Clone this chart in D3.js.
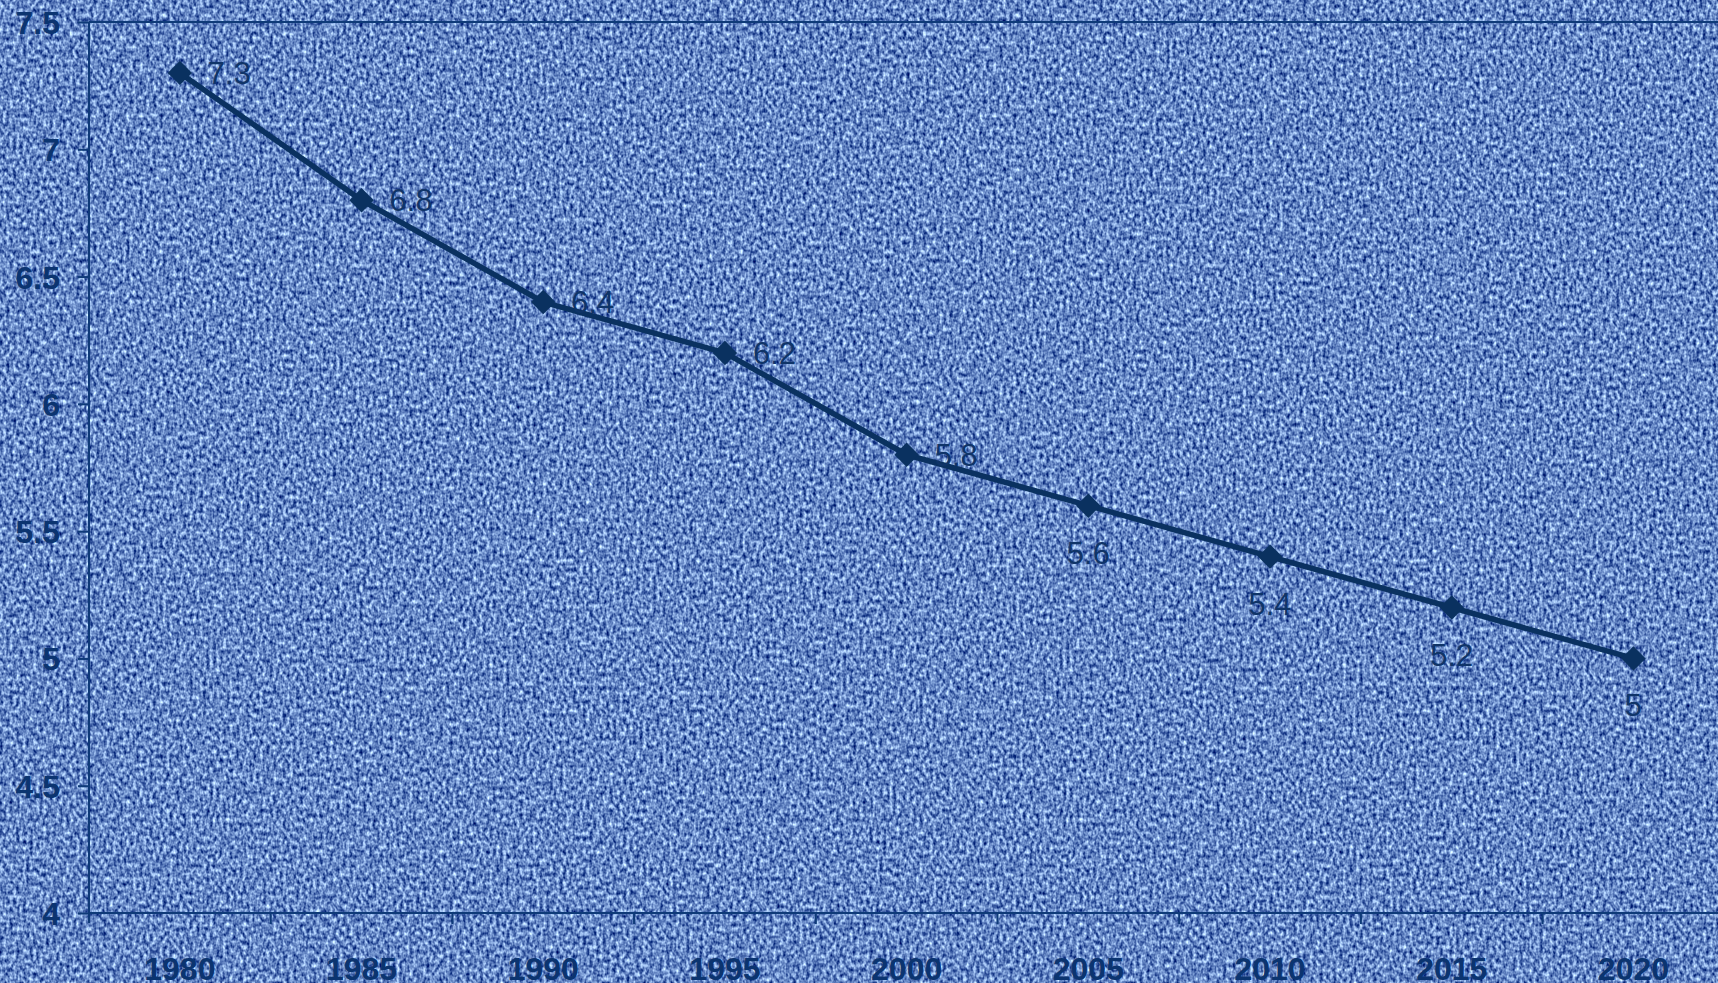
<!DOCTYPE html>
<html>
<head>
<meta charset="UTF-8">
<style>
  body { margin: 0; overflow: hidden; background: #6d8dc6; }
  svg { display: block; }
  .axis text { font-family: "Liberation Sans", Arial, sans-serif; font-weight: bold; font-size: 32px; fill: #0b3470; }
  .axis path, .axis line { stroke: #0e3a78; stroke-width: 2px; }
  .dlabel { font-family: "Liberation Sans", Arial, sans-serif; font-size: 31px; fill: #0f3468; }
</style>
</head>
<body>
<script src="https://cdn.jsdelivr.net/npm/d3@7"></script>
<script>
var years = ["1980", "1985", "1990", "1995", "2000", "2005", "2010", "2015", "2020"];
var values = [7.3, 6.8, 6.4, 6.2, 5.8, 5.6, 5.4, 5.2, 5];
var labelPos = ["right", "right", "right", "right", "right", "below", "below", "below", "below"];
var yTicks = [4, 4.5, 5, 5.5, 6, 6.5, 7, 7.5];
var yTickLabels = ["4", "4.5", "5", "5.5", "6", "6.5", "7", "7.5"];

var width = 1718, height = 983;
var plotLeft = 89, plotTop = 22, plotBottom = 913, bandW = 181.7;

var svg = d3.select("body").append("svg").attr("width", width).attr("height", height);

// canvas-like background texture
var defs = svg.append("defs");
var f = defs.append("filter").attr("id", "cloth").attr("x", 0).attr("y", 0)
  .attr("width", "100%").attr("height", "100%").attr("color-interpolation-filters", "sRGB");
f.append("feTurbulence").attr("type", "fractalNoise").attr("baseFrequency", "0.3 0.22")
  .attr("numOctaves", 2).attr("seed", 3).attr("result", "n");
f.append("feColorMatrix").attr("in", "n").attr("type", "matrix")
  .attr("values", "1.3 0 0 0 -0.25  1.3 0 0 0 -0.12  1.0 0 0 0 0.27  0 0 0 0 1");
svg.append("rect").attr("width", width).attr("height", height).attr("filter", "url(#cloth)");

var x = d3.scaleBand().domain(years).range([plotLeft, plotLeft + bandW * years.length]);
var y = d3.scaleLinear().domain([4, 7.5]).range([plotBottom, plotTop]);

// top frame line
svg.append("line").attr("x1", plotLeft).attr("x2", width).attr("y1", y(7.5)).attr("y2", y(7.5))
  .attr("stroke", "#0e3a78").attr("stroke-width", 2);

var yAxis = d3.axisLeft(y).tickValues(yTicks)
  .tickFormat(function(d, i) { return yTickLabels[i]; })
  .tickSize(11).tickSizeOuter(0).tickPadding(18);
var gy = svg.append("g").attr("class", "axis").attr("transform", "translate(" + plotLeft + ",0)").call(yAxis);
gy.select(".domain").attr("d", "M0," + plotTop + "V" + (plotBottom + 10));
gy.selectAll("text").attr("dy", "0.36em");

var xAxis = d3.axisBottom(x).tickSize(0).tickSizeOuter(0).tickPadding(44);
var gx = svg.append("g").attr("class", "axis").attr("transform", "translate(0," + plotBottom + ")").call(xAxis);
gx.select(".domain").attr("d", "M" + plotLeft + ",0H" + width);
gx.selectAll("text").attr("dy", "0.71em");
gx.selectAll(".sep").data(years.slice(1)).enter().append("line").attr("class", "sep")
  .attr("x1", function(d) { return x(d); }).attr("x2", function(d) { return x(d); })
  .attr("y1", 0).attr("y2", 11);

var cx = function(d, i) { return x(years[i]) + x.bandwidth() / 2; };

var line = d3.line().x(cx).y(function(d) { return y(d); });
svg.append("path").datum(values).attr("d", line)
  .attr("fill", "none").attr("stroke", "#0a3160").attr("stroke-width", 5.5).attr("stroke-linejoin", "round");

var sym = d3.symbol().type(d3.symbolDiamond2).size(380);
svg.selectAll(".mk").data(values).enter().append("path").attr("class", "mk")
  .attr("d", sym)
  .attr("transform", function(d, i) { return "translate(" + cx(d, i) + "," + y(d) + ")"; })
  .attr("fill", "#0a3160");

svg.selectAll(".dlabel").data(values).enter().append("text").attr("class", "dlabel")
  .attr("x", function(d, i) { return labelPos[i] === "right" ? cx(d, i) + 28 : cx(d, i); })
  .attr("y", function(d, i) { return labelPos[i] === "right" ? y(d) + 11 : y(d) + 58; })
  .attr("text-anchor", function(d, i) { return labelPos[i] === "right" ? "start" : "middle"; })
  .text(function(d) { return d; });
</script>
</body>
</html>
